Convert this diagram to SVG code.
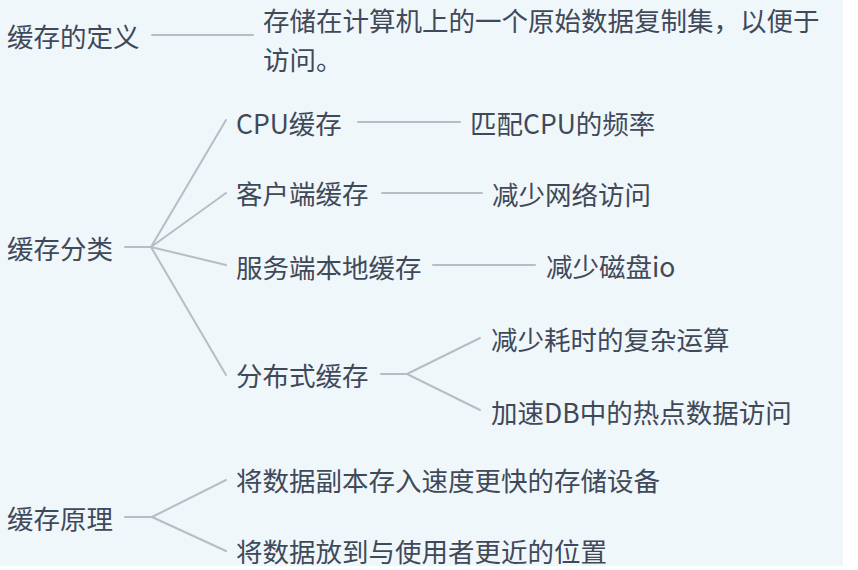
<svg xmlns="http://www.w3.org/2000/svg" width="858" height="570" viewBox="0 0 858 570">
<style>
text{font-family:"Noto Sans CJK SC","Noto Sans",sans-serif;font-size:26.5px;fill:#404959;dominant-baseline:central}
.c{stroke:#b9bdc3;stroke-width:2;fill:none;stroke-linecap:round}
</style>
<rect x="0" y="0" width="858" height="570" fill="#ffffff"/>
<rect x="0" y="0" width="843" height="566" fill="#f0f7fa"/>
<g id="connectors">
<line class="c" x1="152" y1="35" x2="253" y2="35"/>
<line class="c" x1="125" y1="247" x2="151" y2="247"/>
<path class="c" d="M151 247 L226 120 M151 247 L226 193 M151 247 L226 265 M151 247 L226 375"/>
<line class="c" x1="358" y1="122" x2="460" y2="122"/>
<line class="c" x1="382" y1="193" x2="482" y2="193"/>
<line class="c" x1="433" y1="265" x2="535" y2="265"/>
<line class="c" x1="381" y1="374" x2="407" y2="374"/>
<path class="c" d="M407 374 L480 338 M407 374 L480 410"/>
<line class="c" x1="125" y1="517" x2="152" y2="517"/>
<path class="c" d="M152 517 L226 480 M152 517 L226 551"/>
</g>
<g id="n-def"><text x="7" y="35">缓存的定义</text></g>
<g id="n-def-desc"><text x="263" y="19">存储在计算机上的一个原始数据复制集，以便于<tspan x="263" dy="38.5">访问。</tspan></text></g>
<g id="n-class"><text x="7" y="247">缓存分类</text></g>
<g id="n-cpu"><text x="236" y="122">CPU缓存</text></g>
<g id="n-cpu-d"><text x="470" y="122">匹配CPU的频率</text></g>
<g id="n-client"><text x="236" y="192">客户端缓存</text></g>
<g id="n-client-d"><text x="492" y="193">减少网络访问</text></g>
<g id="n-local"><text x="236" y="266">服务端本地缓存</text></g>
<g id="n-local-d"><text x="546" y="265">减少磁盘io</text></g>
<g id="n-dist"><text x="236" y="374">分布式缓存</text></g>
<g id="n-dist-d1"><text x="491" y="338">减少耗时的复杂运算</text></g>
<g id="n-dist-d2"><text x="491" y="411">加速DB中的热点数据访问</text></g>
<g id="n-principle"><text x="7" y="517">缓存原理</text></g>
<g id="n-p1"><text x="236" y="479">将数据副本存入速度更快的存储设备</text></g>
<g id="n-p2"><text x="236" y="550">将数据放到与使用者更近的位置</text></g>
</svg>
